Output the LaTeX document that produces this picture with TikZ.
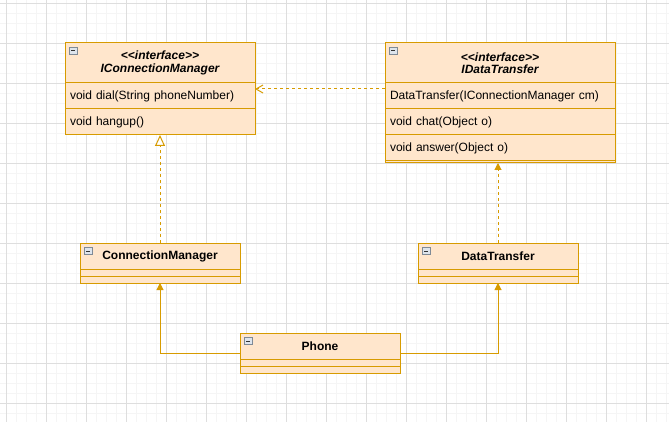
\documentclass[tikz,border=0pt]{standalone}
\usepackage{fontspec}
\setmainfont{Liberation Sans}
\usetikzlibrary{arrows.meta,calc,positioning}
\definecolor{umlline}{HTML}{D79B00}
\definecolor{umlfill}{HTML}{FFE6CC}
\definecolor{iconline}{HTML}{7F8A96}
\definecolor{iconfill}{HTML}{DDE4EC}
\def\umlfont{\fontsize{12}{12.5}\selectfont}
\def\stereo#1{<\kern0pt<#1>\kern0pt>}
\def\collapser(#1){\draw[iconline,fill=iconfill,line width=0.6pt] ($(#1)+(4,4.5)$) rectangle ($(#1)+(12,11.5)$); \draw[black!80,line width=1pt] ($(#1)+(6,8)$) -- ($(#1)+(10,8)$);}
\tikzset{
	classbox/.style={draw=umlline, fill=umlfill, line width=1pt, inner sep=0pt, outer sep=0pt, font=\umlfont},
	classhead/.style={classbox, minimum width=#1, minimum height=26pt, font=\umlfont\bfseries},
	ifacehead/.style={classbox, minimum width=#1, minimum height=40pt, font=\umlfont\bfseries\itshape, align=center},
	member/.style={classbox, minimum height=26pt, inner xsep=5pt, text width=#1, align=left},
	slot/.style={classbox, minimum width=#1, minimum height=7pt},
	depend/.style={umlline, line width=1pt, dash pattern=on 3pt off 3pt, -{Straight Barb[length=7pt,width=8pt]}},
	realize/.style={umlline, line width=1pt, dash pattern=on 3pt off 3pt, -{Triangle[length=11pt,width=10pt,fill=white]}},
	dashblock/.style={umlline, line width=1pt, dash pattern=on 3pt off 3pt, -{Triangle[length=7pt,width=7pt]}},
	assoc/.style={umlline, line width=1pt, -{Triangle[length=7pt,width=7pt]}},
	gridminor/.style={black!4, line width=0.8pt},
	gridmajor/.style={black!13, line width=0.8pt}
}

\begin{document}
\begin{tikzpicture}[x=1pt, y=-1pt]
			%%%%% START %%%%%
			\useasboundingbox (0,0) rectangle (669,422);
			\fill[white] (0,0) rectangle (669,422);
			
			% grid
			\foreach \x in {6,16,...,666} \draw[gridminor] (\x,0) -- (\x,422);
			\foreach \y in {3.5,13.5,...,413.5} \draw[gridminor] (0,\y) -- (669,\y);
			\foreach \x in {6,46,...,646} \draw[gridmajor] (\x,0) -- (\x,422);
			\foreach \y in {3.5,43.5,...,403.5} \draw[gridmajor] (0,\y) -- (669,\y);
			
			% interfaces
			\node[ifacehead=190pt, anchor=north west] (icm) at (65,43) {\stereo{interface}\\IConnectionManager};
			\node[member=180pt, below=0pt of icm] (icmdial) {void dial(String phoneNumber)};
			\node[member=180pt, below=0pt of icmdial] (icmhang) {void hangup()};
			\collapser(icm.north west)
			
			\node[ifacehead=230pt, anchor=north west] (idt) at (385,43) {\stereo{interface}\\IDataTransfer};
			\node[member=220pt, below=0pt of idt] (idtctor) {DataTransfer(IConnectionManager cm)};
			\node[member=220pt, below=0pt of idtctor] (idtchat) {void chat(Object o)};
			\node[member=220pt, below=0pt of idtchat] (idtans) {void answer(Object o)};
			\node[slot=230pt, minimum height=2pt, below=0pt of idtans] (idtend) {};
			\collapser(idt.north west)
			
			% classes
			\node[classhead=160pt, anchor=north west] (cm) at (80,243) {ConnectionManager};
			\node[slot=160pt, below=0pt of cm] (cmattr) {};
			\node[slot=160pt, below=0pt of cmattr] (cmops) {};
			\collapser(cm.north west)
			
			\node[classhead=160pt, anchor=north west] (dt) at (418,243) {DataTransfer};
			\node[slot=160pt, below=0pt of dt] (dtattr) {};
			\node[slot=160pt, below=0pt of dtattr] (dtops) {};
			\collapser(dt.north west)
			
			\node[classhead=160pt, anchor=north west] (phone) at (240,333) {Phone};
			\node[slot=160pt, below=0pt of phone] (phoneattr) {};
			\node[slot=160pt, below=0pt of phoneattr] (phoneops) {};
			\collapser(phone.north west)
			
			% relations
			\draw[depend] ([yshift=-6pt]idtctor.north west) -- ([yshift=-6pt]icmdial.north east);
			\draw[realize] (cm.north) -- (icmhang.south);
			\draw[dashblock] (dt.north) -- (dt.north |- idtend.south);
			\draw[assoc] ([yshift=-7pt]phone.west) -| (cmops.south);
			\draw[assoc] ([yshift=-7pt]phone.east) -| (dtops.south);
			
			%%%%% END %%%%%
\end{tikzpicture}
\end{document}
